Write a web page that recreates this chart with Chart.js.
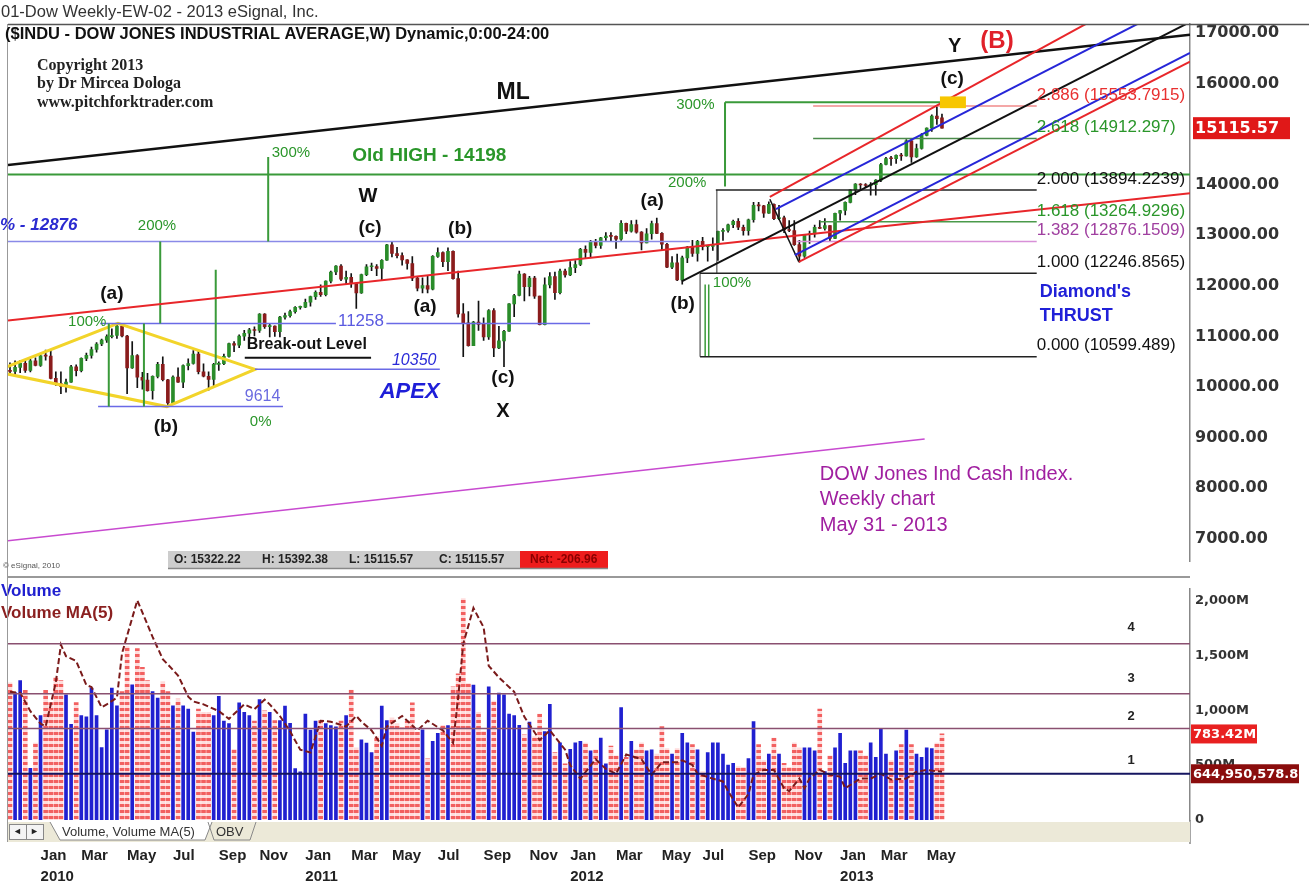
<!DOCTYPE html>
<html>
<head>
<meta charset="utf-8">
<script src="https://cdn.jsdelivr.net/npm/chart.js@4.4.1/dist/chart.umd.min.js"></script>
<style>
  body { margin: 0; background: #fff; width: 1309px; height: 886px; overflow: hidden; position: relative; }
  #priceBox { position: absolute; left: 0; top: 0; width: 1309px; height: 576px; }
  #volBox { position: absolute; left: 0; top: 576px; width: 1309px; height: 310px; }
</style>
</head>
<body>
<div id="priceBox"><canvas id="priceChart"></canvas></div>
<div id="volBox"><canvas id="volChart"></canvas></div>
<script>
// weekly bars, first bar = week of 23 Nov 2009, last = week ending 31 May 2013
const firstWeek = '2009-11-23';

const opens = [10318,10309,10388,10471,10329,10520,10428,10618,10610,10172,
  10067,10012,10099,10402,10325,10566,10625,10742,10850,10927,
  10997,11019,11204,11009,10380,10620,10193,10137,9931,10211,
  10450,10144,9686,10198,10097,10425,10466,10654,10303,10213,
  10150,10448,10462,10607,10860,10829,11006,11063,11133,11118,
  11444,11193,11204,11092,11382,11410,11492,11573,11578,11675,
  11787,11872,11824,12092,12273,12391,12130,12170,12044,11859,
  12221,12377,12380,12342,12506,12811,12639,12596,12512,12441,
  12152,11952,12004,11934,12582,12657,12480,12681,12143,11445,
  11269,10818,11285,11240,10992,11509,10771,10913,11103,11644,
  11809,12231,11983,12153,11796,11231,12019,12184,11866,12294,
  12218,12360,12422,12720,12660,12862,12801,12950,12983,12978,
  12922,13233,13081,13212,13060,12850,13029,13228,13038,12821,
  12369,12455,12119,12554,12767,12640,12880,12772,12777,12822,
  13075,13096,13207,13275,13157,13090,13306,13593,13579,13437,
  13610,13328,13343,13107,13093,12815,12588,13010,13026,13155,
  13135,13190,12938,13435,13488,13650,13896,14010,13993,13982,
  14001,14090,14397,14515,14512,14579,14565,14865,14548,14713,
  14974,15118,15354,15322.22];

const highs = [10480,10516,10530,10520,10550,10580,10640,10730,10730,10300,
  10300,10160,10430,10440,10580,10670,10790,10880,10950,11030,
  11150,11220,11258,11020,10900,10640,10290,10270,10220,10490,
  10595,10155,10220,10380,10440,10560,10720,10720,10460,10300,
  10470,10500,10650,10870,10900,11030,11120,11160,11190,11450,
  11450,11250,11210,11400,11460,11520,11590,11600,11740,11800,
  11900,12020,12100,12290,12400,12420,12290,12240,12050,12230,
  12420,12450,12420,12520,12820,12876,12760,12650,12520,12580,
  12190,12160,12200,12600,12750,12670,12750,12690,12290,11650,
  11490,11300,11700,11370,11530,11550,11200,11120,11650,11830,
  12290,12240,12190,12190,11800,12160,12260,12270,12330,12330,
  12480,12500,12740,12790,12900,12920,12960,13050,13050,12990,
  13290,13240,13290,13300,13070,13130,13280,13340,13050,12840,
  12580,12630,12590,12780,12900,12900,12960,12800,12950,13080,
  13130,13220,13300,13330,13200,13320,13650,13650,13590,13660,
  13620,13590,13380,13290,13290,12900,13020,13080,13200,13290,
  13330,13190,13440,13490,13660,13900,14020,14020,14020,14040,
  14100,14420,14540,14560,14590,14620,14890,14890,14800,15010,
  15120,15380,15542,15392.38];

const lows = [10231,10240,10285,10290,10300,10420,10410,10530,10160,10030,
  9870,9900,10090,10220,10300,10520,10570,10690,10820,10880,
  10970,10960,10990,9870,10370,9990,9960,9920,9760,10180,
  10120,9614,9680,10090,9990,10340,10450,10260,10200,9940,
  10010,10330,10440,10590,10700,10780,10920,10920,11010,11080,
  11160,10990,11000,10990,11340,11380,11460,11540,11570,11600,
  11730,11790,11800,12060,12220,12100,12040,11970,11555,11850,
  12200,12300,12200,12100,12500,12570,12550,12410,12330,12100,
  11900,11860,11860,11920,12560,12380,12300,12130,11380,10600,
  10810,10820,11120,10920,10940,10600,10760,10404,11100,11390,
  11800,11700,11800,11750,11230,11230,11960,11730,11840,12170,
  12200,12260,12400,12550,12570,12750,12740,12900,12880,12740,
  12900,13030,13060,13040,12710,12850,12920,13030,12700,12360,
  12340,12100,12035,12460,12580,12490,12710,12490,12700,12500,
  12900,13060,13150,13110,13000,13000,13260,13480,13350,13430,
  13310,13310,13050,13070,12800,12470,12560,12840,12960,13130,
  13100,12880,12930,13300,13400,13640,13800,13880,13940,13790,
  13790,14060,14390,14380,14420,14480,14560,14440,14540,14700,
  14960,15050,15190,15115.57];

const closes = [10309,10388,10471,10329,10520,10428,10618,10610,10172,10067,
  10012,10099,10402,10325,10566,10625,10742,10850,10927,10997,
  11019,11204,11009,10380,10620,10193,10137,9931,10211,10450,
  10144,9686,10198,10097,10425,10466,10654,10303,10213,10150,
  10448,10462,10607,10860,10829,11006,11063,11133,11118,11444,
  11193,11204,11092,11382,11410,11492,11573,11578,11675,11787,
  11872,11824,12092,12273,12391,12130,12170,12044,11859,12221,
  12377,12380,12342,12506,12811,12639,12596,12512,12441,12152,
  11952,12004,11934,12582,12657,12480,12681,12143,11445,11269,
  10818,11285,11240,10992,11509,10771,10913,11103,11644,11809,
  12231,11983,12153,11796,11231,12019,12184,11866,12294,12218,
  12360,12422,12720,12660,12862,12801,12950,12983,12978,12922,
  13233,13081,13212,13060,12850,13029,13228,13038,12821,12369,
  12455,12119,12554,12767,12640,12880,12772,12777,12822,13075,
  13096,13207,13275,13157,13090,13306,13593,13579,13437,13610,
  13328,13343,13107,13093,12815,12588,13010,13026,13155,13135,
  13190,12938,13435,13488,13650,13896,14010,13993,13982,14001,
  14090,14397,14515,14512,14579,14565,14865,14548,14713,14974,
  15118,15354,15303,15115.57];

// weekly volume, millions
const volumes = [1250,1160,1270,1180,470,700,950,1180,1070,1300,
  1270,1140,870,1070,950,940,1200,950,660,820,
  1200,1040,1170,1580,1230,1560,1390,1270,1170,1110,
  1260,1170,1040,1100,1040,1010,800,1010,980,980,
  950,1125,900,877,643,1067,980,950,900,1096,
  995,980,906,906,1038,880,468,438,965,819,
  900,906,877,860,848,900,950,1184,658,731,
  700,614,760,1038,906,930,877,840,900,1066,
  801,820,556,716,790,863,860,1213,1330,2017,
  1243,1228,980,804,1213,1082,1155,1140,965,950,
  863,775,892,760,965,804,1052,614,702,512,
  643,702,717,700,629,640,746,512,673,585,
  1023,570,717,640,702,629,640,600,851,650,
  600,650,790,702,687,640,440,614,702,702,
  600,500,515,487,480,560,895,687,541,600,
  746,600,515,480,702,658,658,658,629,1009,
  440,585,658,790,515,629,629,629,585,702,
  570,833,600,541,629,687,819,687,600,570,
  658,650,700,783.42];

// Volume MA(5) line: [week, millions]
const volumeMA = [[0,1167],[2,1158],[4,991],[6,877],[7,851],[9,1254],[10,1596],[11,1491],[13,1447],[15,1228],
  [16,1210],[18,1026],[19,1053],[21,1114],[22,1518],[25,2000],[28,1667],[30,1465],[33,1316],[35,1123],
  [36,1079],[38,1053],[41,991],[43,921],[46,1053],[48,1009],[50,1096],[51,1053],[53,947],[55,807],
  [57,640],[59,614],[61,904],[63,895],[66,851],[68,947],[69,895],[71,816],[73,675],[74,851],
  [77,947],[78,904],[80,816],[82,904],[85,816],[87,702],[88,1114],[89,1605],[91,1930],[93,1754],
  [94,1404],[96,1298],[99,1167],[101,939],[104,728],[106,816],[109,640],[110,500],[112,377],[115,553],
  [117,465],[119,421],[121,596],[124,553],[126,412],[128,526],[131,526],[132,544],[134,500],[135,421],
  [138,377],[140,351],[141,263],[143,114],[145,237],[146,412],[148,456],[150,456],[152,289],[153,263],
  [155,377],[156,289],[157,377],[159,456],[161,412],[163,395],[164,289],[167,377],[169,377],[171,421],
  [173,368],[176,377],[178,439],[180,456],[183,439]];

const priceTicks = [7000,8000,9000,10000,11000,12000,13000,14000,15000,16000,17000];
const volumeTicks = [0,500,1000,1500,2000];
const monthTickLabels = ['2010-01','2010-03','2010-05','2010-07','2010-09','2010-11',
  '2011-01','2011-03','2011-05','2011-07','2011-09','2011-11',
  '2012-01','2012-03','2012-05','2012-07','2012-09','2012-11',
  '2013-01','2013-03','2013-05'];
const monthNames = ['Jan','Feb','Mar','Apr','May','Jun','Jul','Aug','Sep','Oct','Nov','Dec'];

// ---- derived helpers ----
const startMs = Date.parse(firstWeek + 'T00:00:00Z');
const weekKey = i => {
  const d = new Date(startMs + i * 7 * 864e5);
  return d.getUTCFullYear() + '-' + String(d.getUTCMonth() + 1).padStart(2, '0');
};
const monthTicks = monthTickLabels.map(key => {
  let i = 0;
  while (i < closes.length && weekKey(i) !== key) i++;
  const [y, m] = key.split('-');
  const name = monthNames[+m - 1];
  return { value: i, label: m === '01' ? [name, y] : name };
});

const X_MIN = -0.39, X_MAX = 231.7;
const isUp = i => closes[i] >= opens[i];

const SANS = '"Liberation Sans", Arial, sans-serif';
const AXIS_FONT = '"DejaVu Sans", Verdana, sans-serif';

// ---- annotation geometry on the price panel (week index, price) ----
const trendLines = [
  [-0.39, 14389, 231.7, 16961, '#111', 2.5],
  [-0.39, 11313, 231.7, 13828, '#e8262a', 2],
  [-0.39, 6961, 179.6, 8973, '#c84ad0', 1.5],
  [131.9, 12087, 231.7, 17213, '#111', 2],
  [149.2, 13712, 154.9, 12474, '#111', 1.5],
  [149.2, 13760, 231.7, 18300, '#e8262a', 2],
  [150.4, 13518, 231.7, 17705, '#2626d8', 2],
  [154.1, 12609, 231.7, 16605, '#2626d8', 2],
  [154.9, 12474, 231.7, 16429, '#e8262a', 2]
];
const hLines = [
  [14198, -0.39, 231.7, '#3a9a3a', 2],
  [12876, -0.39, 133.5, '#8a8ae8', 1.5],
  [11258, 17.7, 64.0, '#6a6ae6', 1.5],
  [11258, 73.9, 113.9, '#6a6ae6', 1.5],
  [9614, 17.3, 53.6, '#6a6ae6', 1.5],
  [10350, 48.1, 84.4, '#6a6ae6', 1.5],
  [10578, 46.1, 70.9, '#111', 2],
  [15627, 140.4, 187.5, '#3a9a3a', 2]
];
const vLines = [
  [50.7, 14544, 12876, '#3a9a3a', 2],
  [29.5, 12876, 11258, '#3a9a3a', 2],
  [40.4, 12319, 10443, '#3a9a3a', 2],
  [19.4, 11258, 9614, '#3a9a3a', 2],
  [26.3, 11258, 9614, '#3a9a3a', 2],
  [140.4, 15627, 13963, '#3a9a3a', 2],
  [136.5, 12029, 10599, '#3a9a3a', 1.5],
  [137.2, 12029, 10599, '#3a9a3a', 1.5],
  [138.8, 13894, 12247, '#333', 1],
  [135.5, 12247, 10599, '#333', 1]
];
const fibLevels = [
  [15553.7915, '2.886 (15553.7915)', '#e83030', '#f08a8a', 157.7],
  [14912.297, '2.618 (14912.297)', '#2a962a', '#4a8a4a', 157.7],
  [13894.2239, '2.000 (13894.2239)', '#111', '#222', 138.6],
  [13264.9296, '1.618 (13264.9296)', '#2a962a', '#4a9a4a', 159],
  [12876.1509, '1.382 (12876.1509)', '#a040a0', '#d890d8', 154.5],
  [12246.8565, '1.000 (12246.8565)', '#111', '#222', 135.5],
  [10599.489, '0.000 (10599.489)', '#111', '#222', 135.5]
];
const diamond = [[-2.95, 10308], [21.2, 11258], [48.1, 10350], [30.8, 9614]];

const WAVE = 'bold 19px ' + SANS;
const GREEN_T = '15px ' + SANS;
const notes = [
  [98.8, 15820, 'ML', 'bold 23px ' + SANS, '#111', 'center'],
  [185.5, 16729, 'Y', 'bold 20px ' + SANS, '#111', 'center'],
  [193.8, 16826, '(B)', 'bold 24px ' + SANS, '#e0202a', 'center'],
  [185, 16091, '(c)', WAVE, '#111', 'center'],
  [67.2, 14563, 'Old HIGH - 14198', 'bold 19px ' + SANS, '#2a962a', 'left'],
  [51.4, 14621, '300%', GREEN_T, '#2a962a', 'left'],
  [70.3, 13770, 'W', 'bold 20px ' + SANS, '#111', 'center'],
  [70.7, 13151, '(c)', WAVE, '#111', 'center'],
  [88.4, 13132, '(b)', WAVE, '#111', 'center'],
  [-1.96, 13190, '% - 12876', 'bold italic 17px ' + SANS, '#2a2ad0', 'left'],
  [25.1, 13190, '200%', GREEN_T, '#2a962a', 'left'],
  [20.0, 11836, '(a)', WAVE, '#111', 'center'],
  [11.4, 11294, '100%', GREEN_T, '#2a962a', 'left'],
  [64.4, 11294, '11258', '17px ' + SANS, '#5a5ae0', 'left'],
  [46.5, 10830, 'Break-out Level', 'bold 16px ' + SANS, '#111', 'left'],
  [75.0, 10520, '10350', 'italic 16px ' + SANS, '#2a2ad8', 'left'],
  [72.6, 9901, 'APEX', 'bold italic 22px ' + SANS, '#1e1ed8', 'left'],
  [46.1, 9805, '9614', '16px ' + SANS, '#6a6ae0', 'left'],
  [47.1, 9321, '0%', GREEN_T, '#2a962a', 'left'],
  [30.6, 9224, '(b)', WAVE, '#111', 'center'],
  [81.5, 11584, '(a)', WAVE, '#111', 'center'],
  [96.8, 10192, '(c)', WAVE, '#111', 'center'],
  [96.8, 9515, 'X', 'bold 20px ' + SANS, '#111', 'center'],
  [126.1, 13673, '(a)', WAVE, '#111', 'center'],
  [132.1, 11642, '(b)', WAVE, '#111', 'center'],
  [129.2, 14041, '200%', GREEN_T, '#2a962a', 'left'],
  [130.8, 15569, '300%', GREEN_T, '#2a962a', 'left'],
  [138.0, 12068, '100%', GREEN_T, '#2a962a', 'left'],
  [202.2, 11874, "Diamond's", 'bold 18px ' + SANS, '#2020d8', 'left'],
  [202.2, 11410, 'THRUST', 'bold 18px ' + SANS, '#2020d8', 'left'],
  [159.0, 8277, 'DOW Jones Ind Cash Index.', '20px ' + SANS, '#a01fa0', 'left'],
  [159.0, 7774, 'Weekly chart', '20px ' + SANS, '#a01fa0', 'left'],
  [159.0, 7271, 'May 31 - 2013', '20px ' + SANS, '#a01fa0', 'left']
];

function text(ctx, str, x, y, font, color, align) {
  ctx.font = font;
  ctx.fillStyle = color;
  ctx.textAlign = align || 'left';
  ctx.textBaseline = 'middle';
  ctx.fillText(str, x, y);
}
function seg(ctx, x1, y1, x2, y2, color, w) {
  ctx.strokeStyle = color;
  ctx.lineWidth = w;
  ctx.beginPath();
  ctx.moveTo(x1, y1);
  ctx.lineTo(x2, y2);
  ctx.stroke();
}
function flag(ctx, str, x, y, w, bg, size) {
  const h = size + 6;
  ctx.fillStyle = bg;
  ctx.fillRect(x, y - h / 2, w, h);
  text(ctx, str, x + 2, y + 1, 'bold ' + size + 'px ' + AXIS_FONT, '#fff', 'left');
}

const priceNotes = {
  id: 'priceNotes',
  afterDatasetsDraw(chart) {
    const ctx = chart.ctx, a = chart.chartArea;
    const X = v => chart.scales.x.getPixelForValue(v);
    const Y = v => chart.scales.y.getPixelForValue(v);
    ctx.save();
    ctx.beginPath();
    ctx.rect(a.left, a.top, a.right - a.left, a.bottom - a.top);
    ctx.clip();

    // diamond
    ctx.strokeStyle = '#f2d42a';
    ctx.lineWidth = 3;
    ctx.beginPath();
    diamond.forEach(([w, p], k) => k ? ctx.lineTo(X(w), Y(p)) : ctx.moveTo(X(w), Y(p)));
    ctx.closePath();
    ctx.stroke();

    hLines.forEach(([p, w1, w2, c, lw]) => seg(ctx, X(w1), Y(p), X(w2), Y(p), c, lw));
    vLines.forEach(([w, p1, p2, c, lw]) => seg(ctx, X(w), Y(p1), X(w), Y(p2), c, lw));
    fibLevels.forEach(([p, , , lc, w1]) => seg(ctx, X(w1), Y(p), X(201.6), Y(p), lc, 1.5));
    trendLines.forEach(([w1, p1, w2, p2, c, lw]) => seg(ctx, X(w1), Y(p1), X(w2), Y(p2), c, lw));

    // yellow marker at the (c) top
    ctx.fillStyle = '#f7c600';
    ctx.fillRect(X(182.6), Y(15743), X(187.7) - X(182.6), Y(15511) - Y(15743));
    ctx.restore();

    ctx.save();
    fibLevels.forEach(([p, label, tc]) => text(ctx, label, X(201.6), Y(p) - 11, '17px ' + SANS, tc, 'left'));
    notes.forEach(([w, p, s, f, c, al]) => text(ctx, s, X(w), Y(p), f, c, al));
    ctx.restore();
  },
  afterDraw(chart) {
    const ctx = chart.ctx, a = chart.chartArea;
    const Y = v => chart.scales.y.getPixelForValue(v);
    ctx.save();
    seg(ctx, a.left, 24.5, 1309, 24.5, '#555', 1.5);
    seg(ctx, 7.5, 24, 7.5, 576, '#999', 1);
    text(ctx, '01-Dow Weekly-EW-02 - 2013 eSignal, Inc.', 1, 12, '16.5px ' + SANS, '#333', 'left');
    text(ctx, '($INDU - DOW JONES INDUSTRIAL AVERAGE,W) Dynamic,0:00-24:00', 5, 34, 'bold 16.5px ' + SANS, '#111', 'left');
    const serif = 'bold 16px "Liberation Serif", "Times New Roman", serif';
    text(ctx, 'Copyright 2013', 37, 66, serif, '#222', 'left');
    text(ctx, 'by Dr Mircea Dologa', 37, 84, serif, '#222', 'left');
    text(ctx, 'www.pitchforktrader.com', 37, 103, serif, '#222', 'left');
    text(ctx, '\u00a9 eSignal, 2010', 3, 566, '8px ' + SANS, '#555', 'left');

    // OHLC info strip
    ctx.fillStyle = '#cdcdcd';
    ctx.fillRect(168, 551, 352, 17);
    ctx.fillStyle = '#ee1c1c';
    ctx.fillRect(520, 551, 88, 17);
    seg(ctx, 168, 568.5, 608, 568.5, '#888', 1.5);
    const bf = 'bold 12px ' + SANS;
    text(ctx, 'O: 15322.22', 174, 560, bf, '#222');
    text(ctx, 'H: 15392.38', 262, 560, bf, '#222');
    text(ctx, 'L: 15115.57', 349, 560, bf, '#222');
    text(ctx, 'C: 15115.57', 439, 560, bf, '#222');
    text(ctx, 'Net: -206.96', 530, 560, bf, '#8a0000');

    flag(ctx, '15115.57', a.right + 3, Y(closes[closes.length - 1]), 97, '#e01818', 16);
    ctx.restore();
  }
};

const xScale = {
  type: 'linear', min: X_MIN, max: X_MAX, offset: false,
  grid: { display: false, drawTicks: false }, border: { display: false }
};

new Chart(document.getElementById('priceChart'), {
  type: 'bar',
  data: {
    datasets: [
      {
        label: 'range',
        data: closes.map((c, i) => ({ x: i, y: [lows[i], highs[i]] })),
        backgroundColor: '#111',
        barThickness: 1,
        grouped: false,
        order: 2
      },
      {
        label: 'body',
        data: closes.map((c, i) => ({ x: i, y: [opens[i], c] })),
        backgroundColor: closes.map((c, i) => isUp(i) ? '#2a8c2a' : '#8a1c1c'),
        barThickness: 3,
        minBarLength: 1,
        grouped: false,
        order: 1
      }
    ]
  },
  options: {
    animation: false,
    responsive: true,
    maintainAspectRatio: false,
    layout: { padding: { left: 8, top: 24, bottom: 3, right: 0 } },
    plugins: { legend: { display: false }, tooltip: { enabled: false } },
    scales: {
      x: { ...xScale, display: false },
      y: {
        position: 'right',
        min: 6555, max: 17174,
        afterBuildTicks: s => { s.ticks = priceTicks.map(v => ({ value: v })); },
        ticks: {
          callback: v => v.toFixed(2),
          font: { family: AXIS_FONT, size: 16, weight: 'bold' },
          color: '#333',
          padding: 5
        },
        grid: { display: false, drawTicks: false },
        border: { color: '#888', width: 1.5 },
        afterFit: s => { s.width = 119; }
      }
    }
  },
  plugins: [priceNotes]
});

// hatched red volume bars
function hatch() {
  const c = document.createElement('canvas');
  c.width = 1; c.height = 6;
  const g = c.getContext('2d');
  g.fillStyle = '#f26060'; g.fillRect(0, 0, 1, 3);
  g.fillStyle = '#ffdcdc'; g.fillRect(0, 3, 1, 3);
  return g.createPattern(c, 'repeat');
}

const volNotes = {
  id: 'volNotes',
  afterDatasetsDraw(chart) {
    const ctx = chart.ctx, a = chart.chartArea;
    const Y = v => chart.scales.y.getPixelForValue(v);
    ctx.save();
    [1605, 1149, 833].forEach(v => seg(ctx, a.left, Y(v), a.right, Y(v), '#8a5070', 1.5));
    seg(ctx, a.left, Y(421), a.right, Y(421), '#151560', 2);
    const nf = 'bold 13px ' + SANS;
    text(ctx, '4', 1131, Y(1754), nf, '#222', 'center');
    text(ctx, '3', 1131, Y(1289), nf, '#222', 'center');
    text(ctx, '2', 1131, Y(939), nf, '#222', 'center');
    text(ctx, '1', 1131, Y(544), nf, '#222', 'center');
    text(ctx, 'Volume', 1, 15, 'bold 17px ' + SANS, '#2020d0');
    text(ctx, 'Volume MA(5)', 1, 37, 'bold 17px ' + SANS, '#8b2020');
    ctx.restore();
  },
  afterDraw(chart) {
    const ctx = chart.ctx, a = chart.chartArea;
    const Y = v => chart.scales.y.getPixelForValue(v);
    ctx.save();
    seg(ctx, a.left, 1, a.right, 1, '#999', 2);
    seg(ctx, 7.5, 0, 7.5, a.bottom + 22, '#999', 1);
    seg(ctx, a.right, a.bottom, a.right, a.bottom + 24, '#888', 1.5);
    // tab strip
    ctx.fillStyle = '#ece9d8';
    ctx.fillRect(a.left, a.bottom + 2, a.right - a.left, 20);
    ctx.fillStyle = '#f4f4f4';
    ctx.strokeStyle = '#888';
    ctx.lineWidth = 1;
    [[9, 17], [26, 17]].forEach(([x, w]) => { ctx.fillRect(x, a.bottom + 4, w, 15); ctx.strokeRect(x + 0.5, a.bottom + 4.5, w, 15); });
    text(ctx, '\u25c4', 17.5, a.bottom + 12, '9px ' + SANS, '#222', 'center');
    text(ctx, '\u25ba', 34.5, a.bottom + 12, '9px ' + SANS, '#222', 'center');
    ctx.fillStyle = '#fff';
    ctx.beginPath();
    ctx.moveTo(50, a.bottom + 2); ctx.lineTo(60, a.bottom + 20); ctx.lineTo(205, a.bottom + 20); ctx.lineTo(212, a.bottom + 2);
    ctx.fill();
    ctx.stroke();
    ctx.beginPath();
    ctx.moveTo(208, a.bottom + 2); ctx.lineTo(214, a.bottom + 20); ctx.lineTo(250, a.bottom + 20); ctx.lineTo(256, a.bottom + 2);
    ctx.stroke();
    text(ctx, 'Volume, Volume MA(5)', 62, a.bottom + 12, '13px ' + SANS, '#333');
    text(ctx, 'OBV', 216, a.bottom + 12, '13px ' + SANS, '#333');

    flag(ctx, '783.42M', a.right + 1, Y(volumes[volumes.length - 1]), 66, '#e82020', 13);
    flag(ctx, '644,950,578.8', a.right + 1, Y(421), 108, '#8a0d0d', 13);
    ctx.restore();
  }
};

new Chart(document.getElementById('volChart'), {
  type: 'bar',
  data: {
    datasets: [
      {
        type: 'line',
        label: 'Volume MA(5)',
        data: volumeMA.map(([w, v]) => ({ x: w, y: v })),
        borderColor: '#7a1a1a',
        borderWidth: 2,
        borderDash: [6, 3],
        pointRadius: 0,
        tension: 0,
        order: 0
      },
      {
        label: 'Volume up',
        data: volumes.map((v, i) => isUp(i) ? { x: i, y: v } : null).filter(Boolean),
        backgroundColor: '#2020d0',
        barThickness: 3,
        grouped: false,
        order: 2
      },
      {
        label: 'Volume down',
        data: volumes.map((v, i) => isUp(i) ? null : { x: i, y: v }).filter(Boolean),
        backgroundColor: hatch(),
        barThickness: 4,
        grouped: false,
        order: 1
      }
    ]
  },
  options: {
    animation: false,
    responsive: true,
    maintainAspectRatio: false,
    layout: { padding: { left: 8, top: 4, bottom: 0, right: 0 } },
    plugins: { legend: { display: false }, tooltip: { enabled: false } },
    scales: {
      x: {
        ...xScale,
        afterBuildTicks: s => { s.ticks = monthTicks.map(t => ({ value: t.value })); },
        ticks: {
          align: 'start',
          autoSkip: false,
          maxRotation: 0,
          padding: 25,
          callback: v => (monthTicks.find(t => t.value === v) || {}).label,
          font: { family: SANS, size: 15, weight: 'bold', lineHeight: 1.4 },
          color: '#222'
        },
        afterFit: s => { s.height = 66; }
      },
      y: {
        position: 'right',
        min: 0, max: 2105,
        afterBuildTicks: s => { s.ticks = volumeTicks.map(v => ({ value: v })); },
        ticks: {
          callback: v => v === 0 ? '0' : v.toLocaleString('en-US') + 'M',
          font: { family: AXIS_FONT, size: 13, weight: 'bold' },
          color: '#333',
          padding: 5
        },
        grid: { display: false, drawTicks: false },
        border: { color: '#888', width: 1.5 },
        afterFit: s => { s.width = 119; }
      }
    }
  },
  plugins: [volNotes]
});
</script>
</body>
</html>
